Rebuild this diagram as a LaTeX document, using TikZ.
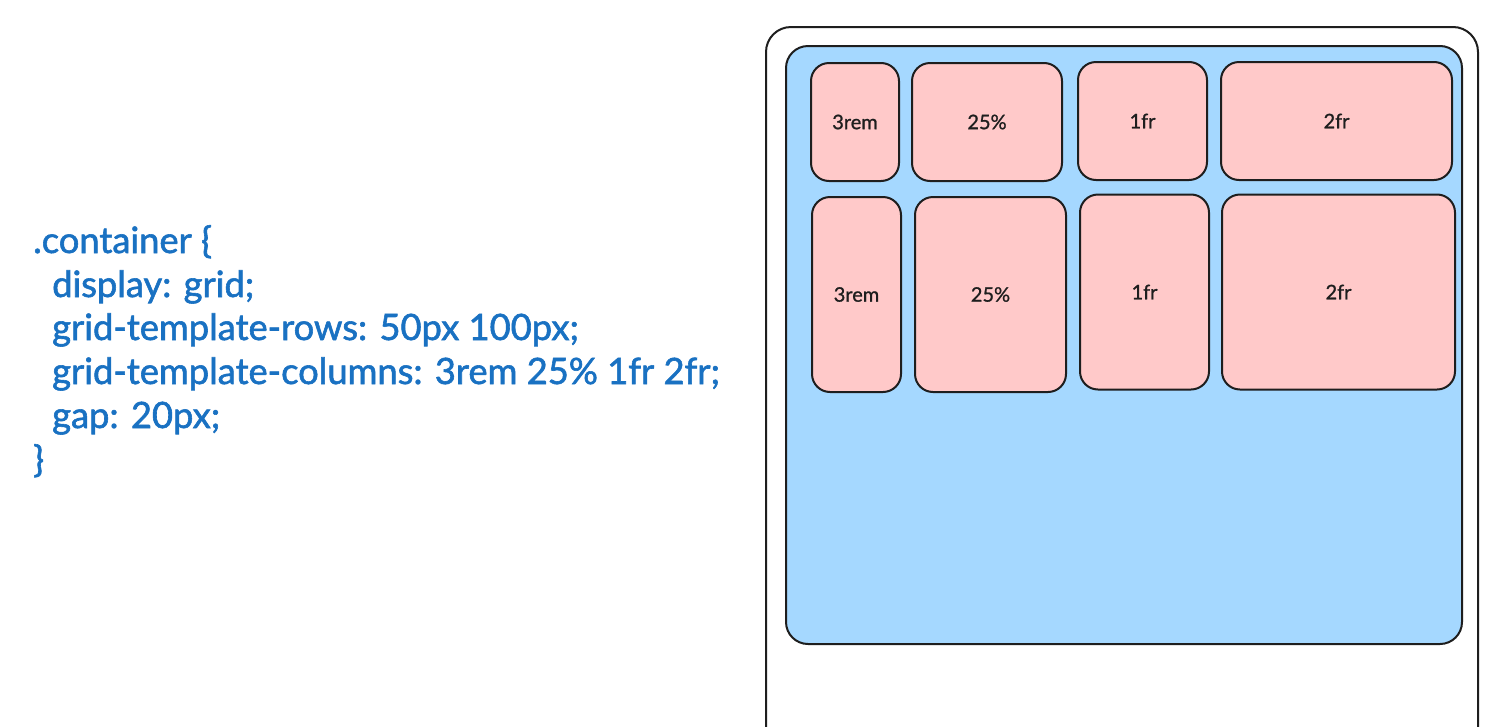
\documentclass[tikz,border=0pt]{standalone}
\usepackage{fontspec}
\setmainfont{Lato}
\newfontfamily\codefont[FakeBold=1.6]{Lato}
\newfontfamily\cellfont[FakeBold=1.0]{Lato}
\definecolor{codeblue}{HTML}{1971C2}
\definecolor{cellpink}{HTML}{FFC9C9}
\definecolor{boxblue}{HTML}{A5D8FF}
\definecolor{ink}{HTML}{1E1E1E}
\tikzset{
  codeline/.style={anchor=base west, inner sep=0pt, text=codeblue, font=\codefont\fontsize{36.3}{42}\selectfont},
  cell/.style={draw=ink, line width=2pt, fill=cellpink, rounded corners=18pt, inner sep=0pt,
    text=ink, font=\cellfont\fontsize{20}{24}\selectfont},
}
\begin{document}
\begin{tikzpicture}[x=1pt,y=-1pt]
\useasboundingbox (0,0) rectangle (1510,726);
\fill[white] (0,0) rectangle (1510,726);
\clip (0,0) rectangle (1510,726);
% code
\node[codeline] (l1) at (33,253) {.container \{};
\node[codeline] (l2) at (52,297) {display: grid;};
\node[codeline] (l3) at (52,340) {grid-template-rows: 50px 100px;};
\node[codeline] (l4) at (52,384) {grid-template-columns: 3rem 25\% 1fr 2fr;};
\node[codeline] (l5) at (52,428) {gap: 20px;};
\node[codeline] (l6) at (33,472) {\}};
% outer frame
\draw[ink, line width=2pt, rounded corners=25pt] (766,760) -- (766,27) -- (1478,27) -- (1478,760);
% container
\node[draw=ink, line width=2pt, fill=boxblue, rounded corners=22pt, minimum width=676pt, minimum height=598pt, inner sep=0pt] (cont) at (1124,345) {};
% row 1
\node[cell, minimum width=88pt, minimum height=118pt] (c11) at (855,122) {3rem};
\node[cell, minimum width=150pt, minimum height=118pt] (c12) at (987,122) {25\%};
\node[cell, minimum width=129pt, minimum height=118pt] (c13) at (1142.5,121) {1fr};
\node[cell, minimum width=231pt, minimum height=118pt] (c14) at (1336.5,121) {2fr};
% row 2
\node[cell, minimum width=89pt, minimum height=195pt] (c21) at (856.5,294.5) {3rem};
\node[cell, minimum width=151pt, minimum height=195pt] (c22) at (990.5,294.5) {25\%};
\node[cell, minimum width=129pt, minimum height=195pt] (c23) at (1144.5,292) {1fr};
\node[cell, minimum width=233pt, minimum height=195pt] (c24) at (1338.5,292) {2fr};
\end{tikzpicture}
\end{document}
